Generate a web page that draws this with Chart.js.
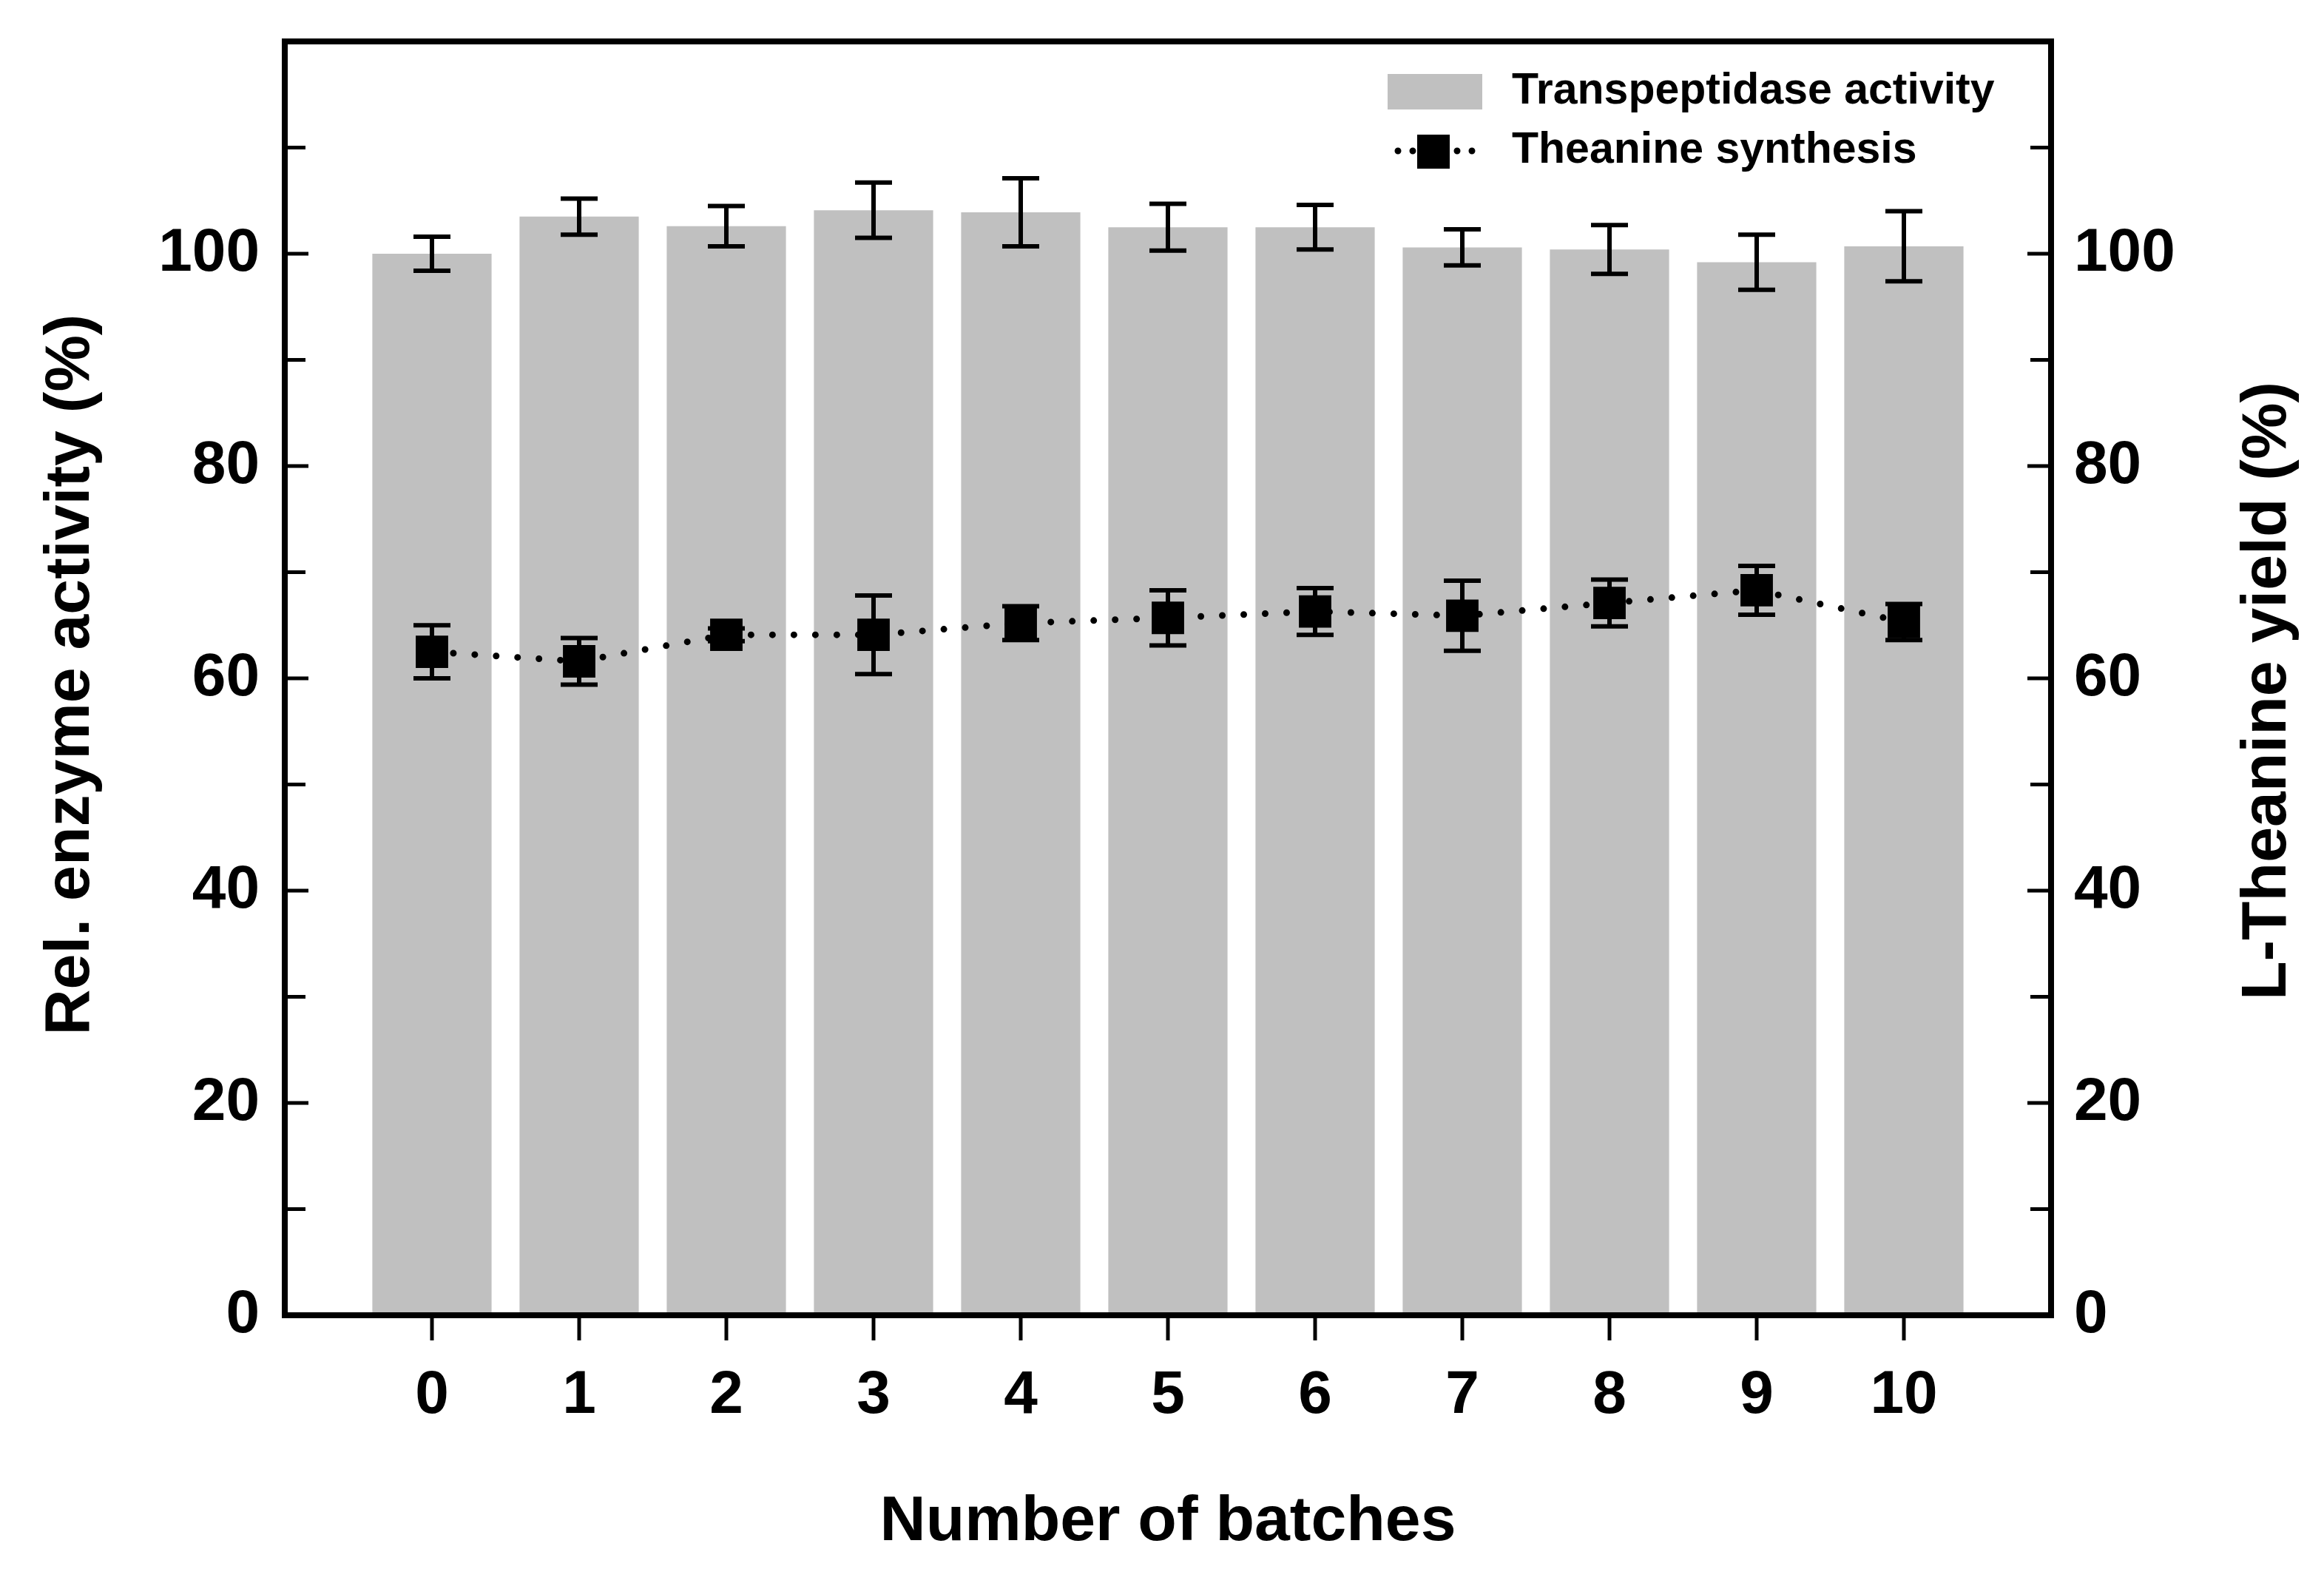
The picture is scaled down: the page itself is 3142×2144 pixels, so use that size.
<!DOCTYPE html>
<html>
<head>
<meta charset="utf-8">
<script src="https://cdn.jsdelivr.net/npm/chart.js@4.4.1/dist/chart.umd.min.js"></script>
<style>
  html, body { margin: 0; padding: 0; background: #fff; }
  #wrap { width: 3142px; height: 2144px; }
</style>
</head>
<body>
<div id="wrap"><canvas id="batchChart" width="3142" height="2144"></canvas></div>
<script>
// values
const batches = [0, 1, 2, 3, 4, 5, 6, 7, 8, 9, 10];
const enzymeActivity = [100.0, 103.5, 102.6, 104.1, 103.9, 102.5, 102.5, 100.6, 100.4, 99.2, 100.7];
const enzymeActivityErr = [1.6, 1.7, 1.9, 2.6, 3.2, 2.2, 2.1, 1.7, 2.3, 2.6, 3.3];
const theanineYield = [62.5, 61.6, 64.1, 64.1, 65.2, 65.7, 66.3, 65.9, 67.1, 68.3, 65.3];
const theanineYieldErr = [2.5, 2.2, 0.6, 3.7, 1.6, 2.6, 2.2, 3.3, 2.2, 2.3, 1.7];
const yTicks = [0, 20, 40, 60, 80, 100];

const FONT = "'Liberation Sans', Arial, sans-serif";
const BAR_GRAY = "#c0c0c0";

// error bars, frame, inward ticks, titles and legend
const figureExtras = {
  id: "figureExtras",
  afterDatasetsDraw(chart) {
    const ctx = chart.ctx;
    const x = chart.scales.x;
    ctx.save();
    ctx.strokeStyle = "#000";
    ctx.lineWidth = 6;
    ctx.lineCap = "butt";
    function errBar(xv, yv, err, yScale) {
      const px = x.getPixelForValue(xv);
      const top = yScale.getPixelForValue(yv + err);
      const bot = yScale.getPixelForValue(yv - err);
      const half = 25;
      ctx.beginPath();
      ctx.moveTo(px, top);
      ctx.lineTo(px, bot);
      ctx.moveTo(px - half, top);
      ctx.lineTo(px + half, top);
      ctx.moveTo(px - half, bot);
      ctx.lineTo(px + half, bot);
      ctx.stroke();
    }
    batches.forEach((b, i) => {
      errBar(b, enzymeActivity[i], enzymeActivityErr[i], chart.scales.y);
      errBar(b, theanineYield[i], theanineYieldErr[i], chart.scales.y2);
    });
    ctx.restore();
  },
  afterDraw(chart) {
    const ctx = chart.ctx;
    const a = chart.chartArea;
    const y = chart.scales.y;
    const x = chart.scales.x;
    ctx.save();
    ctx.strokeStyle = "#000";

    // inward ticks on both y axes, outward on x
    ctx.lineWidth = 5;
    ctx.beginPath();
    for (let v = 10; v < 120; v += 10) {
      const py = y.getPixelForValue(v);
      const len = v % 20 === 0 ? 32 : 28;
      ctx.moveTo(a.left, py);
      ctx.lineTo(a.left + len, py);
      ctx.moveTo(a.right, py);
      ctx.lineTo(a.right - len, py);
    }
    batches.forEach((b) => {
      const px = x.getPixelForValue(b);
      ctx.moveTo(px, a.bottom);
      ctx.lineTo(px, a.bottom + 34);
    });
    ctx.stroke();

    // frame
    ctx.lineWidth = 8;
    ctx.strokeRect(a.left, a.top, a.right - a.left, a.bottom - a.top);

    // axis titles
    ctx.fillStyle = "#000";
    ctx.font = "bold 86px " + FONT;
    ctx.textAlign = "center";
    ctx.textBaseline = "middle";
    ctx.fillText("Number of batches", (a.left + a.right) / 2, 2058);
    ctx.save();
    ctx.translate(96, 912);
    ctx.rotate(-Math.PI / 2);
    ctx.fillText("Rel. enzyme activity (%)", 0, 0);
    ctx.restore();
    ctx.save();
    ctx.translate(3066, 934);
    ctx.rotate(-Math.PI / 2);
    ctx.fillText("L-Theanine yield (%)", 0, 0);
    ctx.restore();

    // legend
    ctx.font = "bold 59px " + FONT;
    ctx.textAlign = "left";
    ctx.fillStyle = BAR_GRAY;
    ctx.fillRect(1876, 100, 128, 48);
    ctx.fillStyle = "#000";
    ctx.fillText("Transpeptidase activity", 2044, 124);
    ctx.fillText("Theanine synthesis", 2044, 204);
    ctx.lineWidth = 9;
    ctx.lineCap = "round";
    ctx.setLineDash([0, 20]);
    ctx.beginPath();
    ctx.moveTo(1890, 204);
    ctx.lineTo(2004, 204);
    ctx.stroke();
    ctx.setLineDash([]);
    ctx.fillRect(1916, 182, 44, 46);
    ctx.restore();
  }
};

// keep the plot box where the figure has it
function fixYWidth(width) {
  return (scale) => {
    scale.width = width;
    scale.paddingTop = 0;
    scale.paddingBottom = 0;
  };
}

const ctx = document.getElementById("batchChart").getContext("2d");

new Chart(ctx, {
  data: {
    datasets: [
      {
        type: "bar",
        label: "Transpeptidase activity",
        data: batches.map((b, i) => ({ x: b, y: enzymeActivity[i] })),
        backgroundColor: BAR_GRAY,
        borderWidth: 0,
        categoryPercentage: 1,
        barPercentage: 0.81,
        yAxisID: "y",
        order: 2,
      },
      {
        type: "line",
        label: "Theanine synthesis",
        data: batches.map((b, i) => ({ x: b, y: theanineYield[i] })),
        borderColor: "#000",
        borderWidth: 9,
        borderDash: [0, 29],
        borderCapStyle: "round",
        pointStyle: "rect",
        pointRadius: 31,
        pointBackgroundColor: "#000",
        pointBorderWidth: 0,
        tension: 0,
        yAxisID: "y2",
        order: 1,
      },
    ],
  },
  options: {
    responsive: false,
    animation: false,
    devicePixelRatio: 1,
    layout: { padding: { top: 56, left: 0, right: 0, bottom: 0 } },
    plugins: {
      legend: { display: false },
      tooltip: { enabled: false },
    },
    scales: {
      x: {
        type: "linear",
        min: -1,
        max: 11,
        offset: false,
        grid: { display: false, drawTicks: false },
        border: { display: false },
        afterBuildTicks: (scale) => {
          scale.ticks = batches.map((b) => ({ value: b }));
        },
        afterFit: (scale) => {
          scale.height = 366;
          scale.paddingLeft = 0;
          scale.paddingRight = 0;
        },
        ticks: {
          color: "#000",
          font: { family: FONT, size: 82, weight: "bold" },
          padding: 60,
          maxRotation: 0,
          autoSkip: false,
        },
      },
      y: {
        position: "left",
        min: 0,
        max: 120,
        grid: { display: false, drawTicks: false },
        border: { display: false },
        afterBuildTicks: (scale) => {
          scale.ticks = yTicks.map((v) => ({ value: v }));
        },
        afterFit: fixYWidth(385),
        ticks: {
          color: "#000",
          font: { family: FONT, size: 82, weight: "bold" },
          padding: 34,
        },
      },
      y2: {
        position: "right",
        min: 0,
        max: 120,
        grid: { display: false, drawTicks: false },
        border: { display: false },
        afterBuildTicks: (scale) => {
          scale.ticks = yTicks.map((v) => ({ value: v }));
        },
        afterFit: fixYWidth(369),
        ticks: {
          color: "#000",
          font: { family: FONT, size: 82, weight: "bold" },
          padding: 31,
        },
      },
    },
  },
  plugins: [figureExtras],
});
</script>
</body>
</html>
